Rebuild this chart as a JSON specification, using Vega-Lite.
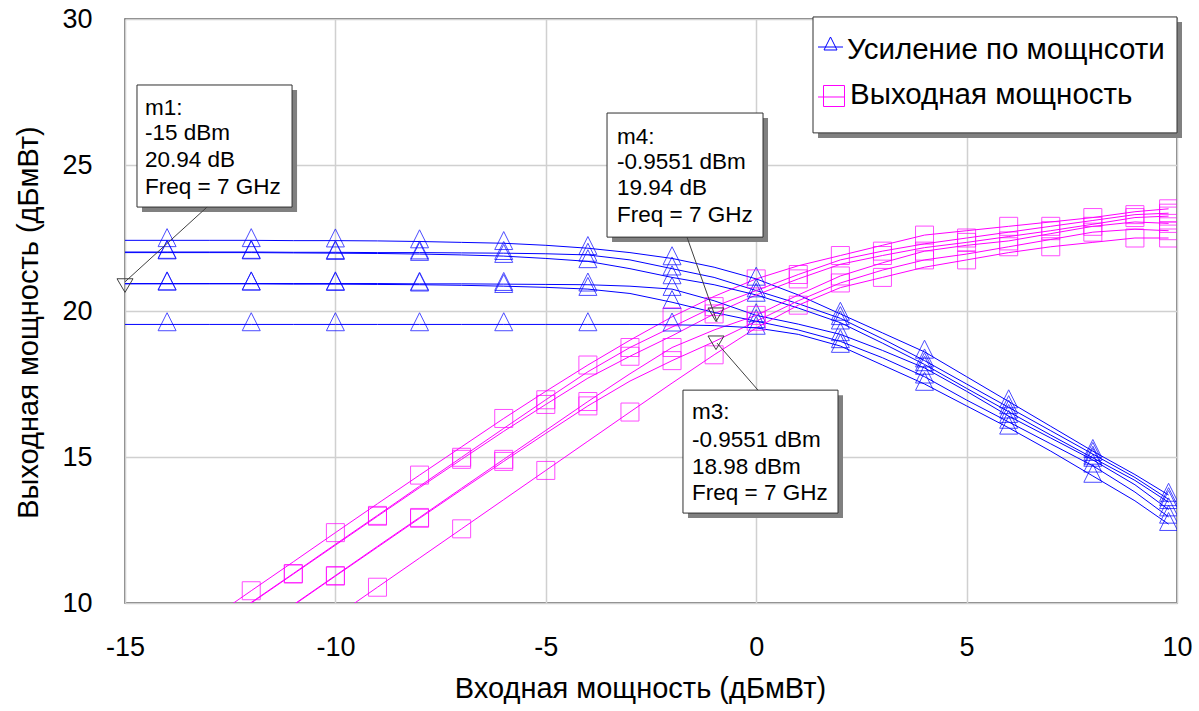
{
  "$schema": "https://vega.github.io/schema/vega-lite/v6.json",
  "width": 1052,
  "height": 584,
  "autosize": {"type": "none"},
  "padding": {"left": 125, "top": 19, "right": 22, "bottom": 108},
  "background": "white",
  "config": {
    "font": "Liberation Sans",
    "view": {"stroke": "#555555", "strokeWidth": 1.5}
  },
  "datasets": {
    "curves": [
      {"t":"A","x":-15,"g":22.42,"p":7.42},{"t":"A","x":-14,"g":22.42,"p":8.42},{"t":"A","x":-13,"g":22.42,"p":9.42},{"t":"A","x":-12,"g":22.42,"p":10.42},{"t":"A","x":-11,"g":22.41,"p":11.41},{"t":"A","x":-10,"g":22.41,"p":12.41},{"t":"A","x":-9,"g":22.40,"p":13.40},{"t":"A","x":-8,"g":22.38,"p":14.38},{"t":"A","x":-7,"g":22.35,"p":15.35},{"t":"A","x":-6,"g":22.32,"p":16.32},{"t":"A","x":-5,"g":22.25,"p":17.25},{"t":"A","x":-4,"g":22.15,"p":18.15},{"t":"A","x":-3,"g":22.00,"p":19.00},{"t":"A","x":-2,"g":21.80,"p":19.80},{"t":"A","x":-1,"g":21.50,"p":20.50},{"t":"A","x":0,"g":21.10,"p":21.10},{"t":"A","x":1,"g":20.55,"p":21.55},{"t":"A","x":2,"g":19.90,"p":21.90},{"t":"A","x":3,"g":19.25,"p":22.25},{"t":"A","x":4,"g":18.60,"p":22.60},{"t":"A","x":5,"g":17.75,"p":22.75},{"t":"A","x":6,"g":16.90,"p":22.90},{"t":"A","x":7,"g":16.05,"p":23.05},{"t":"A","x":8,"g":15.20,"p":23.20},{"t":"A","x":9,"g":14.40,"p":23.40},{"t":"A","x":9.8,"g":13.70,"p":23.50},
      {"t":"B","x":-15,"g":22.02,"p":7.02},{"t":"B","x":-14,"g":22.02,"p":8.02},{"t":"B","x":-13,"g":22.02,"p":9.02},{"t":"B","x":-12,"g":22.02,"p":10.02},{"t":"B","x":-11,"g":22.01,"p":11.01},{"t":"B","x":-10,"g":22.01,"p":12.01},{"t":"B","x":-9,"g":22.00,"p":13.00},{"t":"B","x":-8,"g":22.00,"p":14.00},{"t":"B","x":-7,"g":21.99,"p":14.99},{"t":"B","x":-6,"g":21.98,"p":15.98},{"t":"B","x":-5,"g":21.96,"p":16.96},{"t":"B","x":-4,"g":21.92,"p":17.92},{"t":"B","x":-3,"g":21.75,"p":18.75},{"t":"B","x":-2,"g":21.45,"p":19.45},{"t":"B","x":-1,"g":21.15,"p":20.15},{"t":"B","x":0,"g":20.70,"p":20.70},{"t":"B","x":1,"g":20.25,"p":21.25},{"t":"B","x":2,"g":19.75,"p":21.75},{"t":"B","x":3,"g":19.05,"p":22.05},{"t":"B","x":4,"g":18.30,"p":22.30},{"t":"B","x":5,"g":17.50,"p":22.50},{"t":"B","x":6,"g":16.70,"p":22.70},{"t":"B","x":7,"g":15.90,"p":22.90},{"t":"B","x":8,"g":15.10,"p":23.10},{"t":"B","x":9,"g":14.30,"p":23.30},{"t":"B","x":9.8,"g":13.55,"p":23.35},
      {"t":"C","x":-15,"g":22.00,"p":7.00},{"t":"C","x":-14,"g":22.00,"p":8.00},{"t":"C","x":-13,"g":22.00,"p":9.00},{"t":"C","x":-12,"g":22.00,"p":10.00},{"t":"C","x":-11,"g":21.99,"p":10.99},{"t":"C","x":-10,"g":21.98,"p":11.98},{"t":"C","x":-9,"g":21.97,"p":12.97},{"t":"C","x":-8,"g":21.95,"p":13.95},{"t":"C","x":-7,"g":21.92,"p":14.92},{"t":"C","x":-6,"g":21.88,"p":15.88},{"t":"C","x":-5,"g":21.80,"p":16.80},{"t":"C","x":-4,"g":21.70,"p":17.70},{"t":"C","x":-3,"g":21.45,"p":18.45},{"t":"C","x":-2,"g":21.15,"p":19.15},{"t":"C","x":-1,"g":20.90,"p":19.90},{"t":"C","x":0,"g":20.55,"p":20.55},{"t":"C","x":1,"g":20.10,"p":21.10},{"t":"C","x":2,"g":19.60,"p":21.60},{"t":"C","x":3,"g":18.90,"p":21.90},{"t":"C","x":4,"g":18.17,"p":22.17},{"t":"C","x":5,"g":17.35,"p":22.35},{"t":"C","x":6,"g":16.55,"p":22.55},{"t":"C","x":7,"g":15.75,"p":22.75},{"t":"C","x":8,"g":14.97,"p":22.97},{"t":"C","x":9,"g":14.20,"p":23.20},{"t":"C","x":9.8,"g":13.45,"p":23.25},
      {"t":"D","x":-15,"g":20.94,"p":5.94},{"t":"D","x":-14,"g":20.94,"p":6.94},{"t":"D","x":-13,"g":20.94,"p":7.94},{"t":"D","x":-12,"g":20.94,"p":8.94},{"t":"D","x":-11,"g":20.94,"p":9.94},{"t":"D","x":-10,"g":20.94,"p":10.94},{"t":"D","x":-9,"g":20.94,"p":11.94},{"t":"D","x":-8,"g":20.93,"p":12.93},{"t":"D","x":-7,"g":20.93,"p":13.93},{"t":"D","x":-6,"g":20.92,"p":14.92},{"t":"D","x":-5,"g":20.91,"p":15.91},{"t":"D","x":-4,"g":20.90,"p":16.90},{"t":"D","x":-3,"g":20.85,"p":17.85},{"t":"D","x":-2,"g":20.75,"p":18.75},{"t":"D","x":-1,"g":20.35,"p":19.35},{"t":"D","x":0,"g":19.85,"p":19.85},{"t":"D","x":1,"g":19.55,"p":20.55},{"t":"D","x":2,"g":19.20,"p":21.20},{"t":"D","x":3,"g":18.65,"p":21.65},{"t":"D","x":4,"g":18.05,"p":22.05},{"t":"D","x":5,"g":17.25,"p":22.25},{"t":"D","x":6,"g":16.40,"p":22.40},{"t":"D","x":7,"g":15.65,"p":22.65},{"t":"D","x":8,"g":14.90,"p":22.90},{"t":"D","x":9,"g":14.05,"p":23.05},{"t":"D","x":9.8,"g":13.20,"p":23.00},
      {"t":"E","x":-15,"g":20.93,"p":5.93},{"t":"E","x":-14,"g":20.93,"p":6.93},{"t":"E","x":-13,"g":20.93,"p":7.93},{"t":"E","x":-12,"g":20.93,"p":8.93},{"t":"E","x":-11,"g":20.92,"p":9.92},{"t":"E","x":-10,"g":20.92,"p":10.92},{"t":"E","x":-9,"g":20.91,"p":11.91},{"t":"E","x":-8,"g":20.90,"p":12.90},{"t":"E","x":-7,"g":20.88,"p":13.88},{"t":"E","x":-6,"g":20.85,"p":14.85},{"t":"E","x":-5,"g":20.81,"p":15.81},{"t":"E","x":-4,"g":20.75,"p":16.75},{"t":"E","x":-3,"g":20.60,"p":17.60},{"t":"E","x":-2,"g":20.30,"p":18.30},{"t":"E","x":-1,"g":19.95,"p":18.95},{"t":"E","x":0,"g":19.65,"p":19.65},{"t":"E","x":1,"g":19.35,"p":20.35},{"t":"E","x":2,"g":18.96,"p":20.96},{"t":"E","x":3,"g":18.40,"p":21.40},{"t":"E","x":4,"g":17.75,"p":21.75},{"t":"E","x":5,"g":16.95,"p":21.95},{"t":"E","x":6,"g":16.20,"p":22.20},{"t":"E","x":7,"g":15.45,"p":22.45},{"t":"E","x":8,"g":14.70,"p":22.70},{"t":"E","x":9,"g":13.80,"p":22.80},{"t":"E","x":9.8,"g":12.95,"p":22.75},
      {"t":"F","x":-15,"g":19.54,"p":4.54},{"t":"F","x":-14,"g":19.54,"p":5.54},{"t":"F","x":-13,"g":19.54,"p":6.54},{"t":"F","x":-12,"g":19.54,"p":7.54},{"t":"F","x":-11,"g":19.54,"p":8.54},{"t":"F","x":-10,"g":19.54,"p":9.54},{"t":"F","x":-9,"g":19.54,"p":10.54},{"t":"F","x":-8,"g":19.54,"p":11.54},{"t":"F","x":-7,"g":19.54,"p":12.54},{"t":"F","x":-6,"g":19.54,"p":13.54},{"t":"F","x":-5,"g":19.54,"p":14.54},{"t":"F","x":-4,"g":19.54,"p":15.54},{"t":"F","x":-3,"g":19.54,"p":16.54},{"t":"F","x":-2,"g":19.53,"p":17.53},{"t":"F","x":-1,"g":19.50,"p":18.50},{"t":"F","x":0,"g":19.42,"p":19.42},{"t":"F","x":1,"g":19.20,"p":20.20},{"t":"F","x":2,"g":18.80,"p":20.80},{"t":"F","x":3,"g":18.15,"p":21.15},{"t":"F","x":4,"g":17.50,"p":21.50},{"t":"F","x":5,"g":16.75,"p":21.75},{"t":"F","x":6,"g":16.00,"p":22.00},{"t":"F","x":7,"g":15.20,"p":22.20},{"t":"F","x":8,"g":14.35,"p":22.35},{"t":"F","x":9,"g":13.50,"p":22.50},{"t":"F","x":9.8,"g":12.70,"p":22.50}
    ],
    "boxes": [
      {"x": -14.715, "x2": -11.03, "y": 27.74, "y2": 23.56},
      {"x": -3.545, "x2": 0.162, "y": 26.78, "y2": 22.53},
      {"x": -1.74, "x2": 1.944, "y": 17.29, "y2": 13.08},
      {"x": 1.35, "x2": 10.0, "y": 30.07, "y2": 26.1}
    ],
    "leaders": [
      {"x": -13.05, "y": 23.56, "x2": -15, "y2": 21.0},
      {"x": -1.645, "y": 22.53, "x2": -0.93, "y2": 19.63},
      {"x": 0.043, "y": 17.29, "x2": -0.93, "y2": 18.9}
    ],
    "markers": [
      {"name": "m1", "x": -15, "y": 20.94},
      {"name": "m4", "x": -0.955, "y": 19.94},
      {"name": "m3", "x": -0.955, "y": 18.98}
    ],
    "texts": [
      {"x": -14.525, "y": 26.952, "s": "m1:"},
      {"x": -14.525, "y": 26.096, "s": "-15 dBm"},
      {"x": -14.525, "y": 25.171, "s": "20.94 dB"},
      {"x": -14.525, "y": 24.247, "s": "Freq = 7 GHz"},
      {"x": -3.308, "y": 25.959, "s": "m4:"},
      {"x": -3.308, "y": 25.103, "s": "-0.9551 dBm"},
      {"x": -3.308, "y": 24.212, "s": "19.94 dB"},
      {"x": -3.308, "y": 23.288, "s": "Freq = 7 GHz"},
      {"x": -1.526, "y": 16.541, "s": "m3:"},
      {"x": -1.526, "y": 15.582, "s": "-0.9551 dBm"},
      {"x": -1.526, "y": 14.658, "s": "18.98 dBm"},
      {"x": -1.526, "y": 13.767, "s": "Freq = 7 GHz"}
    ],
    "legendLines": [
      {"k": "g", "x": 1.469, "x2": 2.063, "y": 29.041},
      {"k": "p", "x": 1.469, "x2": 2.11, "y": 27.329}
    ],
    "legendSymbols": [
      {"k": "g", "x": 1.766, "y": 29.041},
      {"k": "p", "x": 1.849, "y": 27.363}
    ],
    "legendText": [
      {"x": 2.158, "y": 28.938, "s": "Усиление по мощнсоти"},
      {"x": 2.229, "y": 27.397, "s": "Выходная мощность"}
    ]
  },
  "layer": [
    {
      "data": {"name": "curves"},
      "transform": [{"fold": ["g", "p"]}],
      "mark": {"type": "line", "clip": true, "strokeWidth": 1},
      "encoding": {
        "x": {
          "field": "x", "type": "quantitative",
          "scale": {"domain": [-15, 10], "nice": false, "zero": false},
          "axis": {
            "values": [-15, -10, -5, 0, 5, 10],
            "labelExpr": "toString(datum.value)",
            "title": "Входная мощность (дБмВт)",
            "grid": true, "gridColor": "#d0d0d0", "gridWidth": 1.5,
            "ticks": false, "tickSize": 0, "domain": false,
            "labelFontSize": 27, "labelColor": "#000000", "labelPadding": 31,
            "labelFlush": false, "labelOverlap": false,
            "titleFontSize": 29, "titleFontWeight": "normal", "titleColor": "#000000",
            "titlePadding": 14, "titleX": 515
          }
        },
        "y": {
          "field": "value", "type": "quantitative",
          "scale": {"domain": [10, 30], "nice": false, "zero": false},
          "axis": {
            "values": [10, 15, 20, 25, 30],
            "labelExpr": "toString(datum.value)",
            "title": "Выходная мощность (дБмВт)",
            "grid": true, "gridColor": "#d0d0d0", "gridWidth": 1.5,
            "ticks": false, "tickSize": 0, "domain": false,
            "labelFontSize": 27, "labelColor": "#000000", "labelPadding": 33,
            "labelFlush": false, "labelOverlap": false,
            "titleFontSize": 29, "titleFontWeight": "normal", "titleColor": "#000000",
            "titlePadding": 18, "titleY": 303
          }
        },
        "color": {
          "field": "key", "type": "nominal",
          "scale": {"domain": ["g", "p"], "range": ["#0000ff", "#ff00ff"]},
          "legend": null
        },
        "detail": {"field": "t"}
      }
    },
    {
      "data": {"name": "curves"},
      "transform": [
        {"fold": ["g", "p"]},
        {"filter": "datum.key == 'g' && ((datum.x % 2 == 0 && datum.x > -15) || datum.x == 9.8)"}
      ],
      "mark": {"type": "point", "clip": true, "filled": false, "strokeWidth": 1, "size": 324, "shape": "M0,-1.3L1,0.7L-1,0.7Z"},
      "encoding": {
        "x": {"field": "x", "type": "quantitative"},
        "y": {"field": "value", "type": "quantitative"},
        "color": {"field": "key", "type": "nominal", "legend": null},
        "detail": {"field": "t"}
      }
    },
    {
      "data": {"name": "curves"},
      "transform": [
        {"fold": ["g", "p"]},
        {"filter": "datum.key == 'p' && ((indexof(['A','D','E'], datum.t) >= 0 ? abs(datum.x % 2) == 0 : abs(datum.x % 2) == 1) || datum.x == 9.8)"}
      ],
      "mark": {"type": "point", "clip": true, "filled": false, "strokeWidth": 1, "size": 324, "shape": "square"},
      "encoding": {
        "x": {"field": "x", "type": "quantitative"},
        "y": {"field": "value", "type": "quantitative"},
        "color": {"field": "key", "type": "nominal", "legend": null},
        "detail": {"field": "t"}
      }
    },
    {
      "data": {"name": "boxes"},
      "mark": {"type": "rect", "fill": "#808080", "xOffset": 5, "x2Offset": 5, "yOffset": 5, "y2Offset": 5},
      "encoding": {
        "x": {"field": "x", "type": "quantitative"},
        "x2": {"field": "x2"},
        "y": {"field": "y", "type": "quantitative"},
        "y2": {"field": "y2"}
      }
    },
    {
      "data": {"name": "boxes"},
      "mark": {"type": "rect", "fill": "#ffffff", "stroke": "#303030", "strokeWidth": 1},
      "encoding": {
        "x": {"field": "x", "type": "quantitative"},
        "x2": {"field": "x2"},
        "y": {"field": "y", "type": "quantitative"},
        "y2": {"field": "y2"}
      }
    },
    {
      "data": {"name": "leaders"},
      "mark": {"type": "rule", "color": "#404040", "strokeWidth": 1},
      "encoding": {
        "x": {"field": "x", "type": "quantitative"},
        "y": {"field": "y", "type": "quantitative"},
        "x2": {"field": "x2"},
        "y2": {"field": "y2"}
      }
    },
    {
      "data": {"name": "markers"},
      "mark": {"type": "point", "filled": false, "stroke": "#404040", "strokeWidth": 1, "size": 256, "shape": "M-1,-0.6H1L0,1.1Z", "opacity": 1},
      "encoding": {
        "x": {"field": "x", "type": "quantitative"},
        "y": {"field": "y", "type": "quantitative"}
      }
    },
    {
      "data": {"name": "texts"},
      "mark": {"type": "text", "align": "left", "baseline": "middle", "fontSize": 22.5, "color": "#000000"},
      "encoding": {
        "x": {"field": "x", "type": "quantitative"},
        "y": {"field": "y", "type": "quantitative"},
        "text": {"field": "s"}
      }
    },
    {
      "data": {"name": "legendLines"},
      "mark": {"type": "rule", "strokeWidth": 1},
      "encoding": {
        "x": {"field": "x", "type": "quantitative"},
        "x2": {"field": "x2"},
        "y": {"field": "y", "type": "quantitative"},
        "color": {"field": "k", "type": "nominal", "legend": null}
      }
    },
    {
      "data": {"name": "legendSymbols"},
      "transform": [{"filter": "datum.k == 'g'"}],
      "mark": {"type": "point", "filled": false, "strokeWidth": 1, "size": 169, "shape": "M0,-1.54L1,0.46L-1,0.46Z", "opacity": 1},
      "encoding": {
        "x": {"field": "x", "type": "quantitative"},
        "y": {"field": "y", "type": "quantitative"},
        "color": {"field": "k", "type": "nominal", "legend": null}
      }
    },
    {
      "data": {"name": "legendSymbols"},
      "transform": [{"filter": "datum.k == 'p'"}],
      "mark": {"type": "point", "filled": false, "strokeWidth": 1, "size": 441, "shape": "square", "opacity": 1},
      "encoding": {
        "x": {"field": "x", "type": "quantitative"},
        "y": {"field": "y", "type": "quantitative"},
        "color": {"field": "k", "type": "nominal", "legend": null}
      }
    },
    {
      "data": {"name": "legendText"},
      "mark": {"type": "text", "align": "left", "baseline": "middle", "fontSize": 29.5, "color": "#000000"},
      "encoding": {
        "x": {"field": "x", "type": "quantitative"},
        "y": {"field": "y", "type": "quantitative"},
        "text": {"field": "s"}
      }
    }
  ]
}
